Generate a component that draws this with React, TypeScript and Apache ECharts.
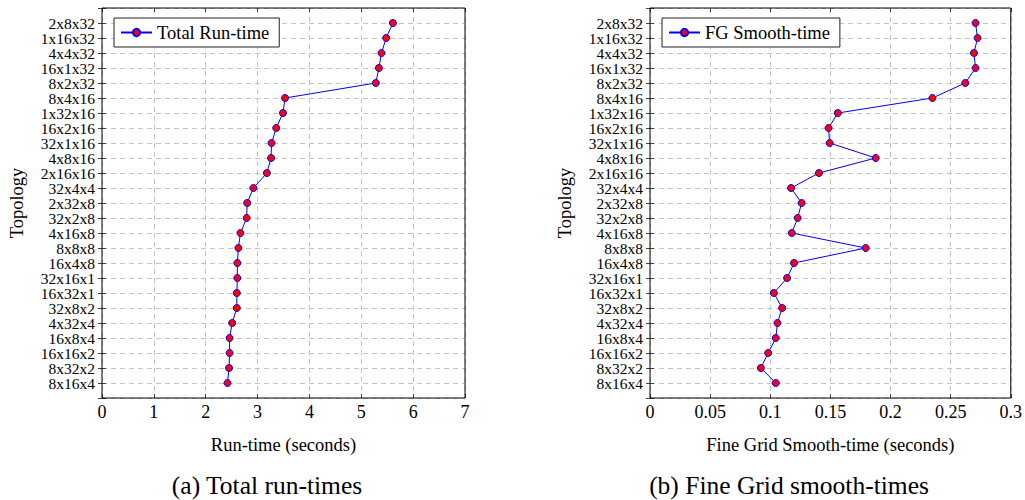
import React, { useEffect, useRef } from "react";
import * as echarts from "echarts";

const topologies = [
  "2x8x32", "1x16x32", "4x4x32", "16x1x32", "8x2x32", "8x4x16", "1x32x16", "16x2x16",
  "32x1x16", "4x8x16", "2x16x16", "32x4x4", "2x32x8", "32x2x8", "4x16x8", "8x8x8",
  "16x4x8", "32x16x1", "16x32x1", "32x8x2", "4x32x4", "16x8x4", "16x16x2", "8x32x2", "8x16x4",
];

const totalRunTime = [
  5.61, 5.48, 5.39, 5.34, 5.28, 3.53, 3.49, 3.36, 3.27, 3.26, 3.18, 2.92, 2.8, 2.79, 2.67,
  2.63, 2.61, 2.61, 2.6, 2.6, 2.51, 2.46, 2.46, 2.45, 2.42,
];

const fgSmoothTime = [
  0.2707, 0.2724, 0.2694, 0.2707, 0.2622, 0.2349, 0.1562, 0.1485, 0.1494, 0.1877, 0.1405,
  0.1173, 0.1261, 0.1228, 0.1179, 0.1794, 0.1198, 0.114, 0.103, 0.1099, 0.106, 0.1046,
  0.0983, 0.0922, 0.1046,
];

const FONT = "'Liberation Serif', 'DejaVu Serif', serif";
const yCats = [" ", ...topologies, "  "];

export default function App() {
  const ref = useRef<HTMLDivElement>(null);
  useEffect(() => {
    if (!ref.current) return;
    const chart = echarts.init(ref.current, undefined, { renderer: "svg" });
    const gridLine = { show: true, lineStyle: { color: "#c4c4c4", type: [5, 4] as any, width: 1 } };
    const tick = { show: true, inside: true, length: 4, lineStyle: { color: "#444", width: 1 } };
    const xBase = (gridIndex: number, max: number, interval: number, name: string) => [
      {
        type: "value", gridIndex, min: 0, max, interval, position: "bottom",
        axisLine: { show: false }, axisTick: tick, splitLine: gridLine,
        axisLabel: { color: "#000", fontFamily: FONT, fontSize: 18, margin: 5 },
        name, nameLocation: "middle", nameGap: 37,
        nameTextStyle: { color: "#000", fontFamily: FONT, fontSize: 18.5 },
      },
      {
        type: "value", gridIndex, min: 0, max, interval, position: "top",
        axisLine: { show: false }, axisTick: tick, splitLine: { show: false },
        axisLabel: { show: false },
      },
    ];
    const yBase = (gridIndex: number) => [
      {
        type: "category", gridIndex, data: yCats, inverse: true, boundaryGap: false, position: "left",
        axisLine: { show: false }, axisTick: { ...tick, interval: 0 }, splitLine: { ...gridLine, interval: 0 },
        axisLabel: { interval: 0, color: "#000", fontFamily: FONT, fontSize: 15.5, margin: 7 },
        name: "Topology", nameLocation: "middle", nameGap: 76, nameRotate: 90,
        nameTextStyle: { color: "#000", fontFamily: FONT, fontSize: 18.5 },
      },
      {
        type: "category", gridIndex, data: yCats, inverse: true, boundaryGap: false, position: "right",
        axisLine: { show: false }, axisTick: { ...tick, interval: 0 }, splitLine: { show: false },
        axisLabel: { show: false },
      },
    ];
    const seriesStyle = {
      type: "line", symbol: "circle", symbolSize: 7,
      itemStyle: { color: "#ff0000", borderColor: "#0000ff", borderWidth: 1 },
      lineStyle: { color: "#0000ff", width: 1 },
    };
    const legendStyle = {
      orient: "vertical", backgroundColor: "#fff", borderColor: "#222", borderWidth: 1,
      padding: [5, 10, 5, 6], itemWidth: 31, itemHeight: 9, itemGap: 0,
      textStyle: { color: "#000", fontFamily: FONT, fontSize: 18.5 },
    };
    chart.setOption({
      animation: false,
      grid: [
        { left: 102, top: 6, width: 363, height: 392, show: true, borderColor: "#000", borderWidth: 1, backgroundColor: "transparent", z: 10 },
        { left: 650, top: 6, width: 362, height: 392, show: true, borderColor: "#000", borderWidth: 1, backgroundColor: "transparent", z: 10 },
      ],
      xAxis: [...xBase(0, 7, 1, "Run-time (seconds)"), ...xBase(1, 0.3, 0.05, "Fine Grid Smooth-time (seconds)")],
      yAxis: [...yBase(0), ...yBase(1)],
      legend: [
        { ...legendStyle, left: 114, top: 18, data: ["Total Run-time"] },
        { ...legendStyle, left: 662, top: 18, data: ["FG Smooth-time"] },
      ],
      series: [
        { ...seriesStyle, name: "Total Run-time", xAxisIndex: 0, yAxisIndex: 0, data: topologies.map((t, i) => [totalRunTime[i], t]) },
        { ...seriesStyle, name: "FG Smooth-time", xAxisIndex: 2, yAxisIndex: 2, data: topologies.map((t, i) => [fgSmoothTime[i], t]) },
      ],
      graphic: [
        { type: "text", x: 267, y: 485, style: { text: "(a) Total run-times", fill: "#000", font: `25.5px ${FONT}`, textAlign: "center", textVerticalAlign: "middle" } },
        { type: "text", x: 789, y: 485, style: { text: "(b) Fine Grid smooth-times", fill: "#000", font: `25.5px ${FONT}`, textAlign: "center", textVerticalAlign: "middle" } },
      ],
    } as any);
    return () => chart.dispose();
  }, []);
  return <div ref={ref} style={{ width: 1025, height: 500, position: "absolute", left: 0, top: 0 }} />;
}
